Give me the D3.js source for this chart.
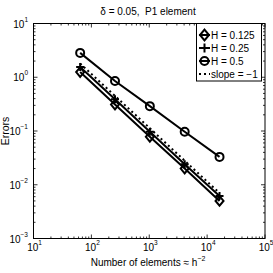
<!DOCTYPE html>
<html><head><meta charset="utf-8">
<script src="https://cdn.jsdelivr.net/npm/d3@7"></script>
<style>body{margin:0;background:#fff}svg{display:block}text{font-family:"Liberation Sans",Arial,sans-serif;fill:#000}.tk{font-family:"Liberation Sans Narrow","Liberation Sans",Arial,sans-serif}</style>
</head><body><div id="chart"></div>
<script>
const elements = [64, 256, 1024, 4096, 16384];
const errH0125 = [1.25, 0.31, 0.078, 0.020, 0.0050];
const errH025 = [1.55, 0.39, 0.097, 0.024, 0.0062];
const errH05 = [2.84, 0.85, 0.29, 0.097, 0.033];
const slopeRef = [1.8, 0.45, 0.1125, 0.028, 0.0070];
const seriesNames = ["H = 0.125", "H = 0.25", "H = 0.5", "slope = \u22121"];
const xTickExp = [1, 2, 3, 4, 5];
const yTickExp = [1, 0, -1, -2, -3];

const W = 273, H = 273;
const m = {l: 33.5, r: 265, t: 23.5, b: 238.5};
const svg = d3.select("#chart").append("svg").attr("width", W).attr("height", H);
const x = d3.scaleLog().domain([10, 1e5]).range([m.l, m.r]);
const y = d3.scaleLog().domain([1e-3, 10]).range([m.b, m.t]);

// ticks
const g = svg.append("g").attr("stroke", "#000").attr("stroke-width", 0.8);
const minorsX = [], minorsY = [];
for (let e = 1; e <= 4; e++) for (let k = 2; k <= 9; k++) minorsX.push(k * Math.pow(10, e));
for (let e = -3; e <= 0; e++) for (let k = 2; k <= 9; k++) minorsY.push(k * Math.pow(10, e));
const xt = xTickExp.map(e => Math.pow(10, e)), yt = yTickExp.map(e => Math.pow(10, e));
function xticks(vals, len) {
  vals.forEach(v => {
    const px = x(v);
    g.append("line").attr("x1", px).attr("x2", px).attr("y1", m.b).attr("y2", m.b - len);
    g.append("line").attr("x1", px).attr("x2", px).attr("y1", m.t).attr("y2", m.t + len);
  });
}
function yticks(vals, len) {
  vals.forEach(v => {
    const py = y(v);
    g.append("line").attr("y1", py).attr("y2", py).attr("x1", m.l).attr("x2", m.l + len);
    g.append("line").attr("y1", py).attr("y2", py).attr("x1", m.r).attr("x2", m.r - len);
  });
}
xticks(xt, 4); xticks(minorsX, 2); yticks(yt, 4); yticks(minorsY, 2);
svg.append("rect").attr("x", m.l).attr("y", m.t).attr("width", m.r - m.l).attr("height", m.b - m.t)
  .attr("fill", "none").attr("stroke", "#000").attr("stroke-width", 1);

// tick labels
xTickExp.forEach(e => {
  const t = svg.append("text").attr("class", "tk").attr("x", x(Math.pow(10, e)) + 1).attr("y", 251).attr("text-anchor", "middle").attr("font-size", 10);
  t.append("tspan").text("10");
  t.append("tspan").attr("dy", -6).attr("font-size", 6.5).text(e);
});
yTickExp.forEach(e => {
  const t = svg.append("text").attr("class", "tk").attr("x", 28).attr("y", y(Math.pow(10, e)) + 4).attr("text-anchor", "end").attr("font-size", 10);
  t.append("tspan").text("10");
  t.append("tspan").attr("dy", -6).attr("font-size", 6.5).text(e < 0 ? "\u2212" + (-e) : e);
});

// titles
svg.append("text").attr("x", 148).attr("y", 15).attr("text-anchor", "middle").attr("font-size", 10)
  .text("\u03b4 = 0.05,  P1 element").style("white-space", "pre");
const xl = svg.append("text").attr("x", 148).attr("y", 266).attr("text-anchor", "middle").attr("font-size", 10);
xl.append("tspan").text("Number of elements \u2248 h");
xl.append("tspan").attr("dy", -5).attr("font-size", 7).text("\u22122");
svg.append("text").attr("transform", "translate(9,131) rotate(-90)").attr("text-anchor", "middle").attr("font-size", 10.5).text("Errors");

// markers
function drawMarker(sel, type, cx, cy, s) {
  if (type === "diamond") {
    sel.append("path").attr("d", `M${cx},${cy - s * 1.2}L${cx + s},${cy}L${cx},${cy + s * 1.2}L${cx - s},${cy}Z`)
      .attr("fill", "none").attr("stroke", "#000").attr("stroke-width", 2);
  } else if (type === "plus") {
    sel.append("path").attr("d", `M${cx - s},${cy}H${cx + s}M${cx},${cy - s}V${cy + s}`)
      .attr("fill", "none").attr("stroke", "#000").attr("stroke-width", 2);
  } else if (type === "circle") {
    sel.append("circle").attr("cx", cx).attr("cy", cy).attr("r", s)
      .attr("fill", "none").attr("stroke", "#000").attr("stroke-width", 2);
  }
}
const series = [
  {vals: errH0125, marker: "diamond", dash: null},
  {vals: errH025, marker: "plus", dash: null},
  {vals: errH05, marker: "circle", dash: null},
  {vals: slopeRef, marker: null, dash: "2,3"}
];
const line = d3.line().x(d => x(d[0])).y(d => y(d[1]));
const plot = svg.append("g");
series.forEach(s => {
  const pts = elements.map((e, i) => [e, s.vals[i]]);
  plot.append("path").attr("d", line(pts)).attr("fill", "none").attr("stroke", "#000")
    .attr("stroke-width", 2).attr("stroke-dasharray", s.dash);
  if (s.marker) pts.forEach(p => drawMarker(plot, s.marker, x(p[0]), y(p[1]), s.marker === "circle" ? 4 : 4));
});

// legend
const lg = svg.append("g");
lg.append("rect").attr("x", 196.5).attr("y", m.t).attr("width", 65).attr("height", 57.5)
  .attr("fill", "#fff").attr("stroke", "#000").attr("stroke-width", 1);
const rowsY = [35, 48, 61, 74];
series.forEach((s, i) => {
  const cy = rowsY[i];
  lg.append("line").attr("x1", 199).attr("x2", 210).attr("y1", cy).attr("y2", cy)
    .attr("stroke", "#000").attr("stroke-width", 2).attr("stroke-dasharray", s.dash);
  if (s.marker) drawMarker(lg, s.marker, 204.5, cy, s.marker === "circle" ? 4 : 4.5);
  lg.append("text").attr("x", 211).attr("y", cy + 4).attr("font-size", 10).text(seriesNames[i]);
});
</script></body></html>
